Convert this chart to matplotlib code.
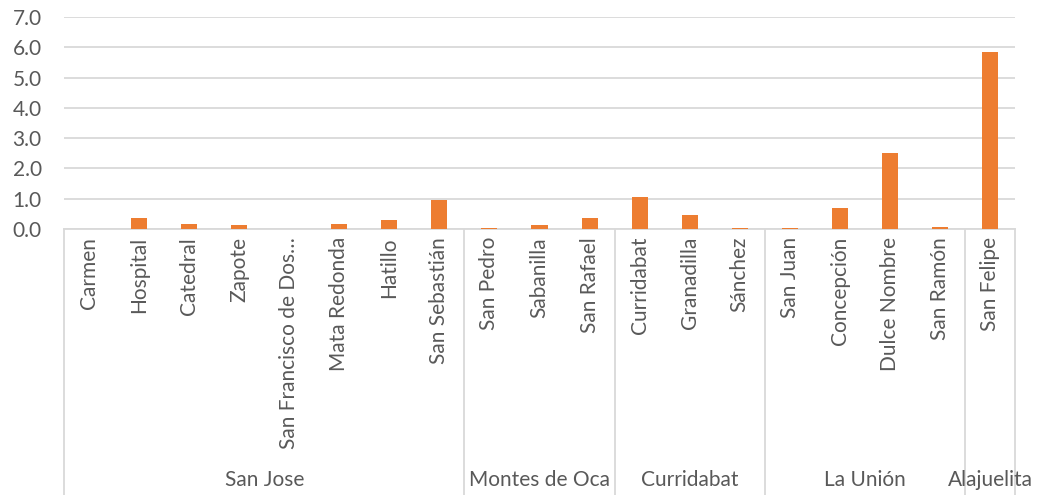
import matplotlib
matplotlib.use("Agg")
import matplotlib.pyplot as plt
from matplotlib.transforms import blended_transform_factory, offset_copy

plt.rcParams['font.family'] = ['Lato', 'DejaVu Sans']

categories = ["Carmen", "Hospital", "Catedral", "Zapote", "San Francisco de Dos…",
              "Mata Redonda", "Hatillo", "San Sebastián",
              "San Pedro", "Sabanilla", "San Rafael",
              "Curridabat", "Granadilla", "Sánchez",
              "San Juan", "Concepción", "Dulce Nombre", "San Ramón",
              "San Felipe"]
values = [0.0, 0.36, 0.16, 0.13, 0.0, 0.16, 0.30, 0.97,
          0.03, 0.13, 0.35,
          1.05, 0.47, 0.04,
          0.04, 0.68, 2.50, 0.06,
          5.83]
groups = ["San Jose", "Montes de Oca", "Curridabat", "La Unión", "Alajuelita"]
group_sizes = [8, 3, 3, 4, 1]
y_ticks = [0, 1, 2, 3, 4, 5, 6, 7]

W, H = 1038, 495
fig = plt.figure(figsize=(W / 100, H / 100), dpi=100)
ax = fig.add_axes([64 / W, 1 - 229 / H, (1015 - 64) / W, (229 - 17) / H])

n = len(categories)
x = list(range(n))
ax.bar(x, values, width=0.32, color="#ED7D31", zorder=3)
ax.set_xlim(-0.5, n - 0.5)
ax.set_ylim(0, 7)
ax.set_yticks(y_ticks)
ax.set_yticklabels([f"{v:.1f}" for v in y_ticks], fontsize=15, color="#595959")
ax.tick_params(axis='y', length=0, pad=16)
ax.set_xticks([])
ax.grid(axis='y', color="#D9D9D9", linewidth=1.3, zorder=0)
for s in ['left', 'right', 'top']:
    ax.spines[s].set_visible(False)
ax.spines['bottom'].set_color("#D9D9D9")
ax.spines['bottom'].set_linewidth(1.3)

trans = blended_transform_factory(ax.transData, ax.transAxes)
lab_trans = offset_copy(trans, fig=fig, x=0, y=-8, units='dots')
for i, c in enumerate(categories):
    ax.text(i, 0, c, transform=lab_trans, rotation=90, ha='center', va='top',
            fontsize=15, color="#595959")

# group separators and labels
bottom_axes = -(H - 229) / (229 - 17)
start = 0
bounds = [-0.5]
for g, sz in zip(groups, group_sizes):
    end = start + sz
    bounds.append(end - 0.5)
    ax.text((start + end - 1) / 2, -(480 - 229) / (229 - 17), g, transform=trans,
            ha='center', va='center', fontsize=15, color="#595959")
    start = end
for b in bounds:
    ax.plot([b, b], [0, bottom_axes], transform=trans, color="#D9D9D9",
            linewidth=1.3, clip_on=False)

fig.savefig("out.png", dpi=100)
